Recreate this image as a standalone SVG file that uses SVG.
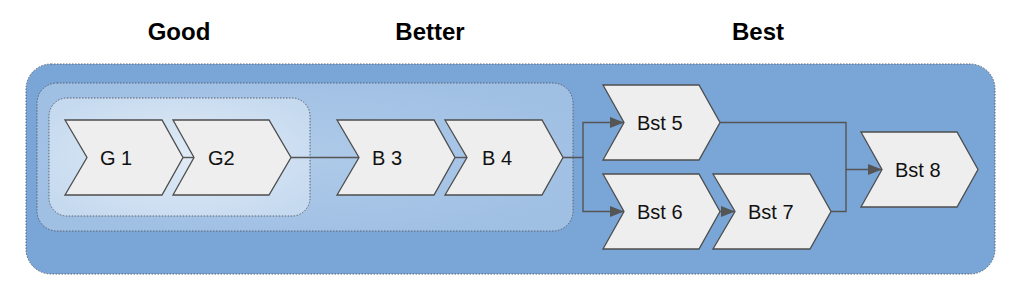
<svg xmlns="http://www.w3.org/2000/svg" width="1024" height="295" viewBox="0 0 1024 295">
  <style>
    .title { font-family: "Liberation Sans", Arial, sans-serif; font-weight: bold; font-size: 24px; fill: #000; text-anchor: middle; }
    .lbl { font-family: "Liberation Sans", Arial, sans-serif; font-size: 20px; fill: #111; }
    .chev { fill: #eeeeee; stroke: #4d4d4d; stroke-width: 1.3; stroke-linejoin: miter; }
    .cont { stroke: #5a6270; stroke-width: 1; stroke-dasharray: 1.5 1.5; }
    .conn { fill: none; stroke: #555555; stroke-width: 1.4; }
  </style>
  <defs>
    <marker id="arr" markerUnits="userSpaceOnUse" markerWidth="16" markerHeight="12" refX="14" refY="5.5" orient="auto">
      <path d="M0,0 L14,5.5 L0,11 Z" fill="#555555"/>
    </marker>
    <radialGradient id="gInner" cx="50%" cy="50%" r="60%">
      <stop offset="0" stop-color="#e0ebf6"/>
      <stop offset="1" stop-color="#c6daef"/>
    </radialGradient>
    <radialGradient id="gMid" cx="50%" cy="50%" r="60%">
      <stop offset="0" stop-color="#aecae9"/>
      <stop offset="1" stop-color="#9fbfe3"/>
    </radialGradient>
  </defs>

  <g id="titles">
    <text class="title" x="179" y="40">Good</text>
    <text class="title" x="430" y="40">Better</text>
    <text class="title" x="758" y="40">Best</text>
  </g>

  <g id="containers">
    <rect id="best-area" class="cont" x="26" y="64" width="969" height="210" rx="25" fill="#7aa5d7"/>
    <rect id="better-area" class="cont" x="37" y="83" width="536" height="148" rx="20" fill="url(#gMid)"/>
    <rect id="good-area" class="cont" x="49" y="98" width="261" height="118" rx="18" fill="url(#gInner)"/>
  </g>

  <g id="connectors">
    <path class="conn" d="M183,157.5 H207" marker-end="url(#arr)"/>
    <path class="conn" d="M291,157.5 H372" marker-end="url(#arr)"/>
    <path class="conn" d="M455,157.5 H481" marker-end="url(#arr)"/>
    <path class="conn" d="M563,157.5 H583 V122.5 H624" marker-end="url(#arr)"/>
    <path class="conn" d="M583,157.5 V211.5 H624" marker-end="url(#arr)"/>
    <path class="conn" d="M720,211.5 H735" marker-end="url(#arr)"/>
    <path class="conn" d="M720,122.5 H846 V169.5 H882" marker-end="url(#arr)"/>
    <path class="conn" d="M831,211.5 H846 V169.5"/>
  </g>

  <g id="G1">
    <path class="chev" d="M65,120 H162 L183,157.5 L162,195 H65 L87,157.5 Z"/>
    <text class="lbl" x="100" y="165">G 1</text>
  </g>
  <g id="G2">
    <path class="chev" d="M173,120 H269 L291,157.5 L269,195 H173 L194,157.5 Z"/>
    <text class="lbl" x="208" y="165">G2</text>
  </g>
  <g id="B3">
    <path class="chev" d="M337,120 H434 L455,157.5 L434,195 H337 L359,157.5 Z"/>
    <text class="lbl" x="372" y="165">B 3</text>
  </g>
  <g id="B4">
    <path class="chev" d="M445,120 H542 L563,157.5 L542,195 H445 L467,157.5 Z"/>
    <text class="lbl" x="482" y="165">B 4</text>
  </g>
  <g id="Bst5">
    <path class="chev" d="M603,85 H699 L720,122.5 L699,160 H603 L624,122.5 Z"/>
    <text class="lbl" x="637" y="129.5">Bst 5</text>
  </g>
  <g id="Bst6">
    <path class="chev" d="M603,174 H699 L720,211.5 L699,249 H603 L624,211.5 Z"/>
    <text class="lbl" x="637" y="218.5">Bst 6</text>
  </g>
  <g id="Bst7">
    <path class="chev" d="M713,174 H810 L831,211.5 L810,249 H713 L735,211.5 Z"/>
    <text class="lbl" x="748" y="218.5">Bst 7</text>
  </g>
  <g id="Bst8">
    <path class="chev" d="M861,132 H957 L978,169.5 L957,207 H861 L882,169.5 Z"/>
    <text class="lbl" x="895" y="176.5">Bst 8</text>
  </g>
</svg>
